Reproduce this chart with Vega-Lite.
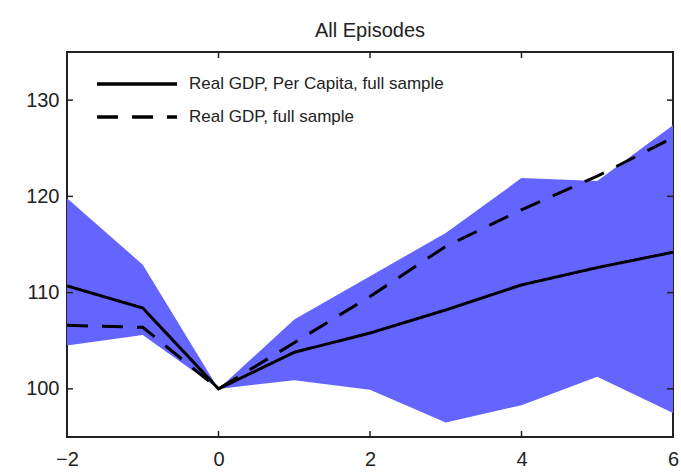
{
  "$schema": "https://vega.github.io/schema/vega-lite/v6.json",
  "width": 606,
  "height": 385,
  "autosize": {"type": "none"},
  "padding": {"left": 67, "top": 52, "right": 8, "bottom": 36},
  "title": {"text": "All Episodes", "fontSize": 20, "fontWeight": "normal", "font": "Liberation Sans", "color": "#222", "offset": 11, "anchor": "middle"},
  "config": {
    "view": {"stroke": "#222", "strokeWidth": 2},
    "axis": {"labelFont": "Liberation Sans", "labelFontSize": 20, "labelColor": "#222", "domain": false, "grid": false, "ticks": false, "title": null}
  },
  "datasets": {
    "band": [
      {"x": -2, "lo": 104.5, "hi": 119.8},
      {"x": -1, "lo": 105.6, "hi": 112.9},
      {"x": 0, "lo": 100, "hi": 100},
      {"x": 1, "lo": 100.9, "hi": 107.2},
      {"x": 2, "lo": 99.9, "hi": 111.7},
      {"x": 3, "lo": 96.5, "hi": 116.2},
      {"x": 4, "lo": 98.3, "hi": 121.9},
      {"x": 5, "lo": 101.25, "hi": 121.6},
      {"x": 6, "lo": 97.5, "hi": 127.4}
    ],
    "lines": [
      {"x": -2, "y": 110.7, "s": "Real GDP, Per Capita, full sample"},
      {"x": -1, "y": 108.4, "s": "Real GDP, Per Capita, full sample"},
      {"x": 0, "y": 100, "s": "Real GDP, Per Capita, full sample"},
      {"x": 1, "y": 103.8, "s": "Real GDP, Per Capita, full sample"},
      {"x": 2, "y": 105.8, "s": "Real GDP, Per Capita, full sample"},
      {"x": 3, "y": 108.2, "s": "Real GDP, Per Capita, full sample"},
      {"x": 4, "y": 110.8, "s": "Real GDP, Per Capita, full sample"},
      {"x": 5, "y": 112.6, "s": "Real GDP, Per Capita, full sample"},
      {"x": 6, "y": 114.2, "s": "Real GDP, Per Capita, full sample"},
      {"x": -2, "y": 106.6, "s": "Real GDP, full sample"},
      {"x": -1, "y": 106.4, "s": "Real GDP, full sample"},
      {"x": 0, "y": 100, "s": "Real GDP, full sample"},
      {"x": 1, "y": 104.8, "s": "Real GDP, full sample"},
      {"x": 2, "y": 109.6, "s": "Real GDP, full sample"},
      {"x": 3, "y": 114.8, "s": "Real GDP, full sample"},
      {"x": 4, "y": 118.6, "s": "Real GDP, full sample"},
      {"x": 5, "y": 122.1, "s": "Real GDP, full sample"},
      {"x": 6, "y": 126.1, "s": "Real GDP, full sample"}
    ],
    "xticks": [{"t": 0}, {"t": 2}, {"t": 4}],
    "yticks": [{"t": 100}, {"t": 110}, {"t": 120}, {"t": 130}]
  },
  "layer": [
    {
      "data": {"name": "band"},
      "mark": {"type": "area", "color": "#6464ff", "opacity": 1},
      "encoding": {
        "x": {"field": "x", "type": "quantitative", "scale": {"domain": [-2, 6], "nice": false}, "axis": {"values": [-2, 0, 2, 4, 6], "labelPadding": 12, "labelFlush": false}},
        "y": {"field": "lo", "type": "quantitative", "scale": {"domain": [95, 135], "nice": false, "zero": false}, "axis": {"values": [100, 110, 120, 130], "labelPadding": 8}},
        "y2": {"field": "hi"}
      }
    },
    {
      "data": {"name": "lines"},
      "mark": {"type": "line", "color": "black", "strokeWidth": 3},
      "encoding": {
        "x": {"field": "x", "type": "quantitative", "axis": null},
        "y": {"field": "y", "type": "quantitative", "axis": null},
        "strokeDash": {
          "field": "s", "type": "nominal",
          "scale": {"domain": ["Real GDP, Per Capita, full sample", "Real GDP, full sample"], "range": [[1, 0], [21, 14]]},
          "legend": {
            "title": null, "orient": "none", "legendX": 28, "legendY": 20,
            "symbolType": "M-1,0H7", "symbolSize": 400, "symbolStrokeWidth": 3.5, "symbolStrokeColor": "black",
            "labelFontSize": 17, "labelFont": "Liberation Sans", "labelColor": "#222", "labelLimit": 500, "labelOffset": 70,
            "rowPadding": 13, "padding": 0
          }
        }
      }
    },
    {
      "data": {"name": "xticks"},
      "mark": {"type": "tick", "orient": "vertical", "size": 12, "thickness": 1.5, "color": "#222", "opacity": 1, "clip": true},
      "encoding": {
        "x": {"field": "t", "type": "quantitative", "axis": null},
        "y": {"datum": 95, "type": "quantitative", "axis": null}
      }
    },
    {
      "data": {"name": "xticks"},
      "mark": {"type": "tick", "orient": "vertical", "size": 12, "thickness": 1.5, "color": "#222", "opacity": 1, "clip": true},
      "encoding": {
        "x": {"field": "t", "type": "quantitative", "axis": null},
        "y": {"datum": 135, "type": "quantitative", "axis": null}
      }
    },
    {
      "data": {"name": "yticks"},
      "mark": {"type": "tick", "orient": "horizontal", "size": 12, "thickness": 1.5, "color": "#222", "opacity": 1, "clip": true},
      "encoding": {
        "y": {"field": "t", "type": "quantitative", "axis": null},
        "x": {"datum": -2, "type": "quantitative", "axis": null}
      }
    },
    {
      "data": {"name": "yticks"},
      "mark": {"type": "tick", "orient": "horizontal", "size": 12, "thickness": 1.5, "color": "#222", "opacity": 1, "clip": true},
      "encoding": {
        "y": {"field": "t", "type": "quantitative", "axis": null},
        "x": {"datum": 6, "type": "quantitative", "axis": null}
      }
    }
  ],
  "resolve": {"axis": {"x": "independent", "y": "independent"}}
}
